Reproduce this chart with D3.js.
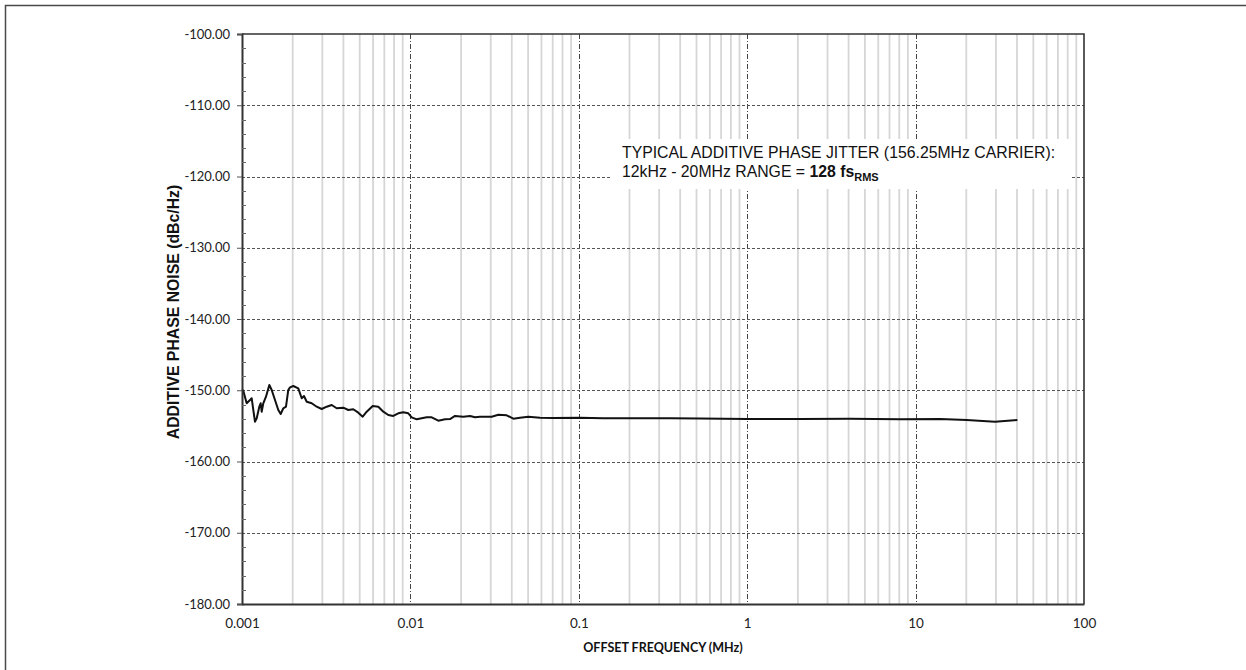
<!DOCTYPE html>
<html>
<head>
<meta charset="utf-8">
<script src="https://cdn.jsdelivr.net/npm/d3@7"></script>
<style>
  body { margin: 0; background: #fff; }
  svg { display: block; }
</style>
</head>
<body>
<svg id="chart" width="1246" height="670"></svg>
<script>
/***************************  Data ***************************/
// offset frequency in MHz
var freq_mhz = [0.001, 0.001018, 0.001066, 0.001116, 0.001142, 0.001167, 0.001194, 0.001223,
    0.001267, 0.001291, 0.001309, 0.001338, 0.001388, 0.001453, 0.001501, 0.00157, 0.001643,
    0.001697, 0.001759, 0.001825, 0.001883, 0.001928, 0.002017, 0.002159, 0.002262, 0.002334,
    0.002423, 0.002594, 0.002777, 0.002973, 0.003184, 0.003409, 0.00365, 0.003996, 0.004278,
    0.00458, 0.004904, 0.005209, 0.005503, 0.005973, 0.006449, 0.006905, 0.007392, 0.007914,
    0.008475, 0.009074, 0.009716, 0.01018, 0.0109, 0.01167, 0.0125, 0.01338, 0.01465, 0.01605,
    0.01719, 0.0184, 0.02062, 0.02259, 0.02419, 0.0259, 0.0304, 0.03327, 0.03732, 0.04083,
    0.04476, 0.05013, 0.05884, 0.07055, 0.1016, 0.1398, 0.2207, 0.348, 0.524, 1.0, 2.058,
    4.07, 8.08, 13.96, 20.11, 29.61, 40.2];
// additive phase noise in dBc/Hz
var phase_noise = [-149.87, -150.06, -151.83, -151.37, -151.13, -152.77, -154.41, -153.94,
    -152.31, -151.83, -153.01, -151.83, -150.91, -149.26, -149.96, -151.37, -152.77,
    -153.33, -152.53, -152.31, -149.96, -149.59, -149.40, -149.73, -151.13, -150.81,
    -151.61, -151.83, -152.31, -152.63, -152.31, -152.07, -152.53, -152.45, -152.77,
    -152.67, -153.15, -153.71, -153.01, -152.21, -152.31, -153.01, -153.47, -153.61,
    -153.24, -153.09, -153.24, -153.80, -154.08, -153.94, -153.80, -153.80, -154.27, -154.08,
    -154.04, -153.61, -153.71, -153.61, -153.80, -153.71, -153.71, -153.43, -153.52, -153.99,
    -153.85, -153.71, -153.85, -153.89, -153.85, -153.94, -153.94, -153.94, -153.97, -154.04, -154.04,
    -154.01, -154.08, -154.04, -154.18, -154.41, -154.18];

var y_ticks = [-180, -170, -160, -150, -140, -130, -120, -110, -100];
var x_ticks = [0.001, 0.01, 0.1, 1, 10, 100];
var x_tick_labels = ["0.001", "0.01", "0.1", "1", "10", "100"];

var x_title = "OFFSET FREQUENCY (MHz)";
var y_title = "ADDITIVE PHASE NOISE (dBc/Hz)";
var note_line1 = "TYPICAL ADDITIVE PHASE JITTER (156.25MHz CARRIER):";
var note_line2 = "12kHz - 20MHz RANGE = ";
var note_value = "128 fs";
var note_sub = "RMS";

/***************************  Setup ***************************/
var svg = d3.select("#chart");
var plot = {left: 242, right: 1084, top: 34, bottom: 604};

var x = d3.scaleLog().domain([0.001, 100]).range([plot.left, plot.right]);
var y = d3.scaleLinear().domain([-180, -100]).range([plot.bottom, plot.top]);

var tick_font = "Lato, 'Open Sans', sans-serif";
var arial = "'Liberation Sans', Arial, sans-serif";

// outer frame (only top/left visible in the crop)
svg.append("rect")
    .attr("x", 5.5).attr("y", 5.5)
    .attr("width", 1300).attr("height", 700)
    .attr("fill", "none")
    .attr("stroke", "#4a4a4a")
    .attr("stroke-width", 1.5);

/***************************  Grid ***************************/
var minor_x = [];
for (var d = 0; d < 5; d++) {
    var base = x_ticks[d];
    for (var m = 2; m <= 9; m++) { minor_x.push(base * m); }
}

var grid = svg.append("g").attr("class", "grid");

grid.selectAll("line.minor")
    .data(minor_x)
    .enter()
    .append("line")
    .attr("class", "minor")
    .attr("x1", function(d) { return x(d); })
    .attr("x2", function(d) { return x(d); })
    .attr("y1", plot.top)
    .attr("y2", plot.bottom)
    .attr("stroke", "#d6d6d6")
    .attr("stroke-width", 1.8);

grid.selectAll("line.major-x")
    .data(x_ticks.slice(1, 5))
    .enter()
    .append("line")
    .attr("class", "major-x")
    .attr("x1", function(d) { return Math.round(x(d)) + 0.5; })
    .attr("x2", function(d) { return Math.round(x(d)) + 0.5; })
    .attr("y1", plot.top)
    .attr("y2", plot.bottom)
    .attr("stroke", "#444")
    .attr("stroke-width", 1)
    .attr("stroke-dasharray", "5,2,1,2");

grid.selectAll("line.major-y")
    .data(y_ticks.slice(1, 8))
    .enter()
    .append("line")
    .attr("class", "major-y")
    .attr("x1", plot.left)
    .attr("x2", plot.right)
    .attr("y1", function(d) { return Math.round(y(d)) + 0.5; })
    .attr("y2", function(d) { return Math.round(y(d)) + 0.5; })
    .attr("stroke", "#555")
    .attr("stroke-width", 1)
    .attr("stroke-dasharray", "3,2");

/***************************  Note box ***************************/
var note = svg.append("g").attr("class", "note");
note.append("rect")
    .attr("x", 612).attr("y", 139)
    .attr("width", 458).attr("height", 50)
    .attr("fill", "#fff");

note.append("text")
    .attr("x", 622).attr("y", 158)
    .attr("font-family", arial)
    .attr("font-size", "15.8px")
    .attr("fill", "#111")
    .text(note_line1);

var t2 = note.append("text")
    .attr("x", 622).attr("y", 177)
    .attr("font-family", arial)
    .attr("font-size", "15.8px")
    .attr("fill", "#111");
t2.append("tspan").text(note_line2);
t2.append("tspan").attr("font-weight", "bold").text(note_value);
t2.append("tspan").attr("font-weight", "bold").attr("font-size", "11px").attr("dy", 4).text(note_sub);

/***************************  Curve ***************************/
var series = freq_mhz.map(function(f, i) { return {f: f, v: phase_noise[i]}; });

var line = d3.line()
    .x(function(d) { return x(d.f); })
    .y(function(d) { return y(d.v); });

svg.append("path")
    .datum(series)
    .attr("d", line)
    .attr("fill", "none")
    .attr("stroke", "#111")
    .attr("stroke-width", 2)
    .attr("stroke-linejoin", "round");

/***************************  Axes ***************************/
// plot frame top/right
svg.append("path")
    .attr("d", "M" + plot.left + "," + plot.top + "H" + plot.right + "V" + plot.bottom)
    .attr("fill", "none")
    .attr("stroke", "#333")
    .attr("stroke-width", 1.6);

var y_axis = d3.axisLeft(y)
    .tickValues(y_ticks)
    .tickSize(5)
    .tickPadding(7)
    .tickFormat(function(d) { return d.toFixed(2); });

var y_g = svg.append("g")
    .attr("transform", "translate(" + plot.left + ",0)")
    .call(y_axis);
y_g.select(".domain").attr("stroke", "#333").attr("stroke-width", 2);
y_g.selectAll(".tick line").attr("stroke", "#555");
y_g.selectAll("text")
    .attr("font-family", tick_font)
    .attr("font-size", "13px")
    .attr("fill", "#222");

// inner minor ticks every 2 dB
var y_minor = d3.range(-180, -100, 2).filter(function(v) { return v % 10 !== 0; });
svg.append("g")
    .selectAll("line")
    .data(y_minor)
    .enter()
    .append("line")
    .attr("x1", plot.left)
    .attr("x2", plot.left + 4)
    .attr("y1", function(d) { return Math.round(y(d)) + 0.5; })
    .attr("y2", function(d) { return Math.round(y(d)) + 0.5; })
    .attr("stroke", "#666")
    .attr("stroke-width", 1);

var x_axis = d3.axisBottom(x)
    .tickValues(x_ticks)
    .tickSize(0)
    .tickPadding(14)
    .tickFormat(function(d, i) { return x_tick_labels[i]; });

var x_g = svg.append("g")
    .attr("transform", "translate(0," + plot.bottom + ")")
    .call(x_axis);
x_g.select(".domain").attr("stroke", "#333").attr("stroke-width", 2);
x_g.selectAll("text")
    .attr("font-family", tick_font)
    .attr("font-size", "13.5px")
    .attr("fill", "#222");

/***************************  Titles ***************************/
svg.append("text")
    .attr("x", (plot.left + plot.right) / 2)
    .attr("y", 652)
    .attr("text-anchor", "middle")
    .attr("font-family", tick_font)
    .attr("font-weight", "bold")
    .attr("font-size", "12.5px")
    .attr("fill", "#111")
    .text(x_title);

svg.append("text")
    .attr("transform", "translate(179,312) rotate(-90)")
    .attr("text-anchor", "middle")
    .attr("font-family", arial)
    .attr("font-weight", "bold")
    .attr("font-size", "15.8px")
    .attr("fill", "#111")
    .text(y_title);
</script>
</body>
</html>
